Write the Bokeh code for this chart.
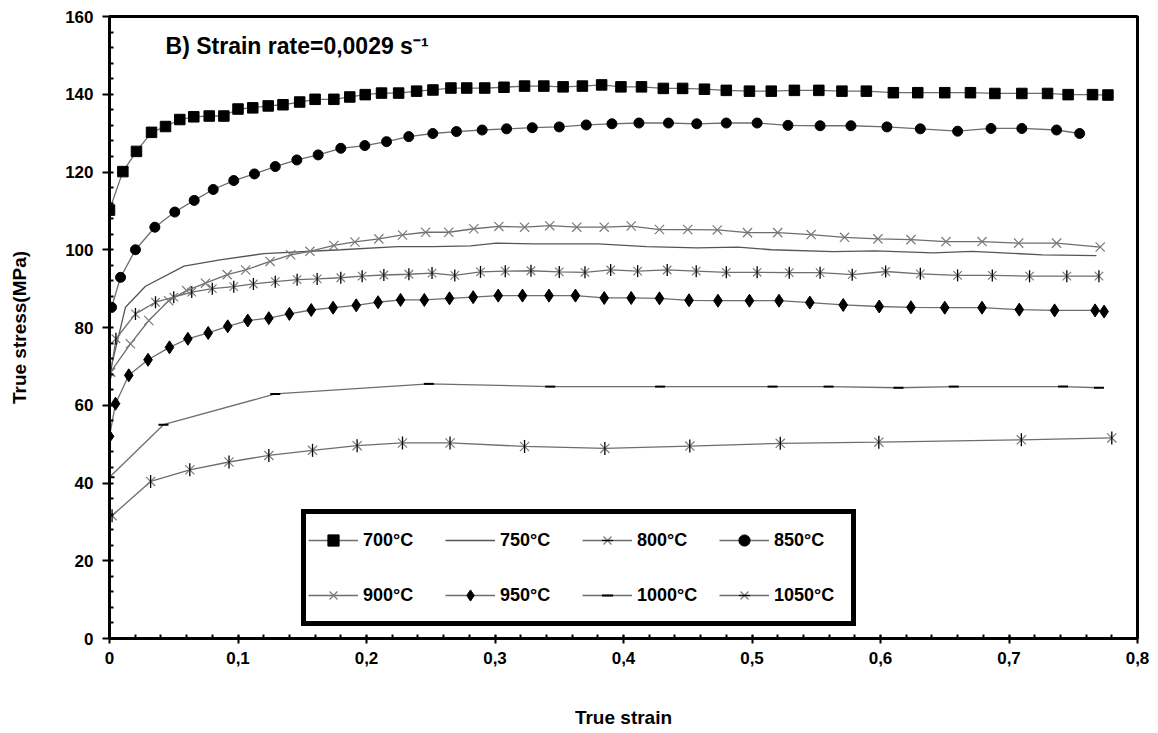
import numpy as np
from bokeh.plotting import figure
from bokeh.models import (Range1d, FixedTicker, CustomJSTickFormatter, Legend,
                          LegendItem, Label)
from bokeh.embed import file_html
from bokeh.resources import INLINE

# ---------------- data ----------------
x_ticks = [0, 0.1, 0.2, 0.3, 0.4, 0.5, 0.6, 0.7, 0.8]
y_ticks = [0, 20, 40, 60, 80, 100, 120, 140, 160]

strain_700 = [0.0, 0.0104, 0.021, 0.0327, 0.0436, 0.0547, 0.0656, 0.0776, 0.089, 0.100,
              0.1115, 0.1235, 0.135, 0.148, 0.160, 0.1746, 0.187, 0.199, 0.2117, 0.225,
              0.239, 0.2517, 0.2657, 0.278, 0.292, 0.307, 0.323, 0.338, 0.353, 0.368,
              0.383, 0.398, 0.414, 0.431, 0.446, 0.463, 0.480, 0.498, 0.515, 0.533,
              0.552, 0.570, 0.589, 0.610, 0.629, 0.650, 0.670, 0.689, 0.710, 0.730,
              0.746, 0.765, 0.777]
stress_700 = [110.2, 120.1, 125.3, 130.2, 131.7, 133.5, 134.2, 134.4, 134.4, 136.2,
              136.5, 137.0, 137.3, 138.0, 138.7, 138.7, 139.3, 139.9, 140.3, 140.3,
              140.8, 141.1, 141.6, 141.6, 141.6, 141.8, 142.1, 142.1, 141.9, 142.1,
              142.4, 141.9, 141.9, 141.5, 141.5, 141.3, 141.0, 140.8, 140.8, 141.0,
              141.0, 140.8, 140.8, 140.4, 140.4, 140.4, 140.4, 140.2, 140.2, 140.2,
              139.9, 139.9, 139.8]

strain_750 = [0.0, 0.0124, 0.028, 0.058, 0.086, 0.120, 0.180, 0.224, 0.252, 0.281, 0.301,
              0.330, 0.380, 0.418, 0.457, 0.489, 0.515, 0.563, 0.596, 0.641, 0.671, 0.726, 0.768]
stress_750 = [68.0, 85.2, 90.6, 95.8, 97.4, 99.0, 100.0, 100.8, 100.8, 101.0, 101.7,
              101.5, 101.5, 100.8, 100.5, 100.7, 100.0, 99.5, 99.7, 99.2, 99.6, 98.7, 98.5]

strain_800 = [0.001, 0.005, 0.0202, 0.0358, 0.050, 0.064, 0.080, 0.0967, 0.112, 0.129,
              0.146, 0.1616, 0.180, 0.1966, 0.2135, 0.233, 0.251, 0.2687, 0.2887, 0.308,
              0.328, 0.350, 0.370, 0.390, 0.411, 0.434, 0.4566, 0.480, 0.504, 0.529,
              0.553, 0.578, 0.604, 0.631, 0.660, 0.687, 0.716, 0.745, 0.770]
stress_800 = [68.5, 77.1, 83.5, 86.5, 87.8, 89.1, 90.0, 90.5, 91.2, 91.8,
              92.3, 92.5, 92.8, 93.2, 93.5, 93.7, 94.0, 93.4, 94.3, 94.5,
              94.6, 94.3, 94.2, 94.8, 94.5, 94.8, 94.5, 94.2, 94.2, 94.1,
              94.1, 93.6, 94.4, 93.8, 93.4, 93.4, 93.2, 93.2, 93.2]

strain_850 = [0.0016, 0.0086, 0.0202, 0.0353, 0.0508, 0.0659, 0.0807, 0.0967, 0.1128, 0.129,
              0.1458, 0.1624, 0.180, 0.1987, 0.2156, 0.2329, 0.2516, 0.270, 0.290, 0.309,
              0.329, 0.350, 0.371, 0.391, 0.412, 0.435, 0.457, 0.480, 0.504, 0.528,
              0.553, 0.577, 0.605, 0.631, 0.660, 0.686, 0.710, 0.737, 0.755]
stress_850 = [85.2, 92.9, 100.0, 105.8, 109.7, 112.7, 115.5, 117.8, 119.5, 121.4,
              123.1, 124.4, 126.1, 126.8, 127.8, 129.1, 129.9, 130.4, 130.8, 131.1,
              131.4, 131.6, 132.1, 132.4, 132.6, 132.6, 132.4, 132.6, 132.6, 132.0,
              131.9, 131.9, 131.6, 131.1, 130.5, 131.2, 131.2, 130.8, 129.9]

strain_900 = [0.0008, 0.0163, 0.0306, 0.046, 0.060, 0.0747, 0.0916, 0.106, 0.125, 0.141,
              0.156, 0.1746, 0.191, 0.2096, 0.228, 0.246, 0.264, 0.2835, 0.303, 0.323,
              0.3426, 0.3636, 0.385, 0.406, 0.428, 0.450, 0.473, 0.4965, 0.520, 0.546,
              0.572, 0.598, 0.6237, 0.651, 0.679, 0.7075, 0.737, 0.771]
stress_900 = [68.5, 75.8, 81.8, 86.9, 89.5, 91.4, 93.6, 94.8, 97.0, 98.7,
              99.6, 101.1, 102.0, 102.8, 103.8, 104.5, 104.5, 105.4, 106.0, 105.8,
              106.2, 105.8, 105.8, 106.1, 105.2, 105.2, 105.1, 104.4, 104.4, 103.9,
              103.2, 102.8, 102.6, 102.1, 102.1, 101.7, 101.7, 100.7]

strain_950 = [0.0, 0.0047, 0.015, 0.030, 0.0467, 0.061, 0.0768, 0.092, 0.1076, 0.124,
              0.140, 0.157, 0.174, 0.192, 0.209, 0.2265, 0.245, 0.2646, 0.283, 0.3025,
              0.3214, 0.342, 0.3626, 0.385, 0.406, 0.428, 0.451, 0.4735, 0.498, 0.521,
              0.545, 0.571, 0.599, 0.6237, 0.650, 0.679, 0.708, 0.7355, 0.767, 0.774]
stress_950 = [52.0, 60.4, 67.7, 71.7, 74.9, 77.1, 78.6, 80.3, 81.8, 82.4,
              83.5, 84.5, 85.1, 85.7, 86.5, 87.1, 87.1, 87.5, 87.8, 88.2,
              88.2, 88.2, 88.2, 87.6, 87.6, 87.5, 87.0, 86.9, 86.9, 86.9,
              86.4, 85.8, 85.4, 85.2, 85.1, 85.1, 84.6, 84.4, 84.4, 84.1]

strain_1000 = [0.0, 0.042, 0.129, 0.2485, 0.343, 0.4285, 0.516, 0.5596, 0.614, 0.657, 0.742, 0.770]
stress_1000 = [41.5, 55.0, 62.9, 65.5, 64.8, 64.8, 64.8, 64.8, 64.5, 64.8, 64.8, 64.5]

strain_1050 = [0.002, 0.032, 0.0625, 0.093, 0.124, 0.158, 0.1927, 0.228, 0.265, 0.323,
               0.3855, 0.4516, 0.522, 0.5987, 0.7096, 0.780]
stress_1050 = [31.6, 40.4, 43.4, 45.4, 47.1, 48.4, 49.6, 50.3, 50.3, 49.4,
               48.9, 49.5, 50.2, 50.5, 51.1, 51.6]

labels = ["700°C", "750°C", "800°C", "850°C", "900°C", "950°C", "1000°C", "1050°C"]
title_text = "B) Strain rate=0,0029 s⁻¹"
x_title = "True strain"
y_title = "True stress(MPa)"

# ---------------- figure ----------------
FONT = "Liberation Sans"
LINE_C = "#6e6e6e"
p = figure(frame_width=1028, frame_height=622, min_border_left=109, min_border_right=21,
           min_border_top=16, min_border_bottom=95, output_backend="svg",
           toolbar_location=None, x_range=Range1d(0, 0.8), y_range=Range1d(0, 160),
           background_fill_color="white", border_fill_color="white")
p.grid.visible = False
p.outline_line_color = "black"
p.outline_line_width = 3
p.outline_line_alpha = 1.0

def add_line(xs, ys):
    return p.line(xs, ys, line_color=LINE_C, line_width=1.3)

r = {}
r["700"] = [add_line(strain_700, stress_700),
            p.scatter(strain_700, stress_700, marker="square", size=10.5, color="black")]
r["750"] = [p.line(strain_750, stress_750, line_color="#555555", line_width=1.3)]
r["800"] = [add_line(strain_800, stress_800),
            p.scatter(strain_800, stress_800, marker="x", size=12, line_color="#7a7a7a", line_width=1.2),
            p.scatter(strain_800, stress_800, marker="dash", angle=np.pi / 2, size=12,
                      line_color="black", line_width=1.3)]
r["850"] = [add_line(strain_850, stress_850),
            p.scatter(strain_850, stress_850, marker="circle", size=10, color="black")]
r["900"] = [add_line(strain_900, stress_900),
            p.scatter(strain_900, stress_900, marker="x", size=13, line_color="#7a7a7a", line_width=1.2)]
r["950"] = [add_line(strain_950, stress_950),
            p.scatter(strain_950, stress_950, marker="diamond", size=13, color="black")]
r["1000"] = [add_line(strain_1000, stress_1000),
             p.scatter(strain_1000, stress_1000, marker="dash", size=10, line_color="black", line_width=2)]
r["1050"] = [add_line(strain_1050, stress_1050),
             p.scatter(strain_1050, stress_1050, marker="x", size=13, line_color="#7a7a7a", line_width=1.2),
             p.scatter(strain_1050, stress_1050, marker="dash", angle=np.pi / 2, size=13,
                       line_color="black", line_width=1.3)]

# ---------------- axes ----------------
xa = p.xaxis[0]
ya = p.yaxis[0]
xa.ticker = FixedTicker(ticks=x_ticks, minor_ticks=list(np.round(np.arange(0, 0.8001, 0.02), 3)))
ya.ticker = FixedTicker(ticks=y_ticks, minor_ticks=list(range(0, 161, 4)))
xa.formatter = CustomJSTickFormatter(code="return tick == 0 ? '0' : tick.toFixed(1).replace('.', ',');")
for ax in (xa, ya):
    ax.axis_line_width = 3
    ax.axis_line_color = "black"
    ax.major_tick_line_width = 2
    ax.minor_tick_line_width = 2
    ax.major_tick_line_color = "black"
    ax.minor_tick_line_color = "black"
    ax.major_label_text_font = FONT
    ax.major_label_text_font_style = "bold"
    ax.major_label_text_font_size = "17px"
    ax.major_label_text_color = "black"
    ax.axis_label_text_font = FONT
    ax.axis_label_text_font_style = "bold"
    ax.axis_label_text_font_size = "19px"
    ax.axis_label_text_color = "black"
    ax.minor_tick_in = 4
    ax.minor_tick_out = 0

xa.major_tick_in = 3
xa.major_tick_out = 5
xa.major_label_standoff = 8
xa.axis_label = x_title
xa.axis_label_standoff = 40

ya.major_tick_in = 0
ya.major_tick_out = 7
ya.major_label_standoff = 9
ya.axis_label = y_title
ya.axis_label_standoff = 32

# ---------------- title text ----------------
p.add_layout(Label(x=0.0436, y=152.5, text=title_text, text_font=FONT,
                   text_font_style="bold", text_font_size="23px",
                   text_baseline="middle", text_align="left", text_color="black"))

# ---------------- legend (4 columns, filled column by column) ----------------
keys = ["700", "750", "800", "850", "900", "950", "1000", "1050"]
order = [0, 4, 1, 5, 2, 6, 3, 7]
items = [LegendItem(label=labels[i], renderers=r[keys[i]]) for i in order]
legend = Legend(items=items, ncols=4, location=(192, 12),
                border_line_color="black", border_line_width=5, border_line_alpha=1.0,
                background_fill_color="white", background_fill_alpha=1.0,
                padding=2, spacing=7, margin=0,
                glyph_width=50, glyph_height=28, label_height=48, label_width=75,
                label_standoff=5, label_text_font=FONT, label_text_font_style="bold",
                label_text_font_size="18px", label_text_color="black")
p.add_layout(legend)

open("out.html", "w").write(file_html(p, INLINE))
